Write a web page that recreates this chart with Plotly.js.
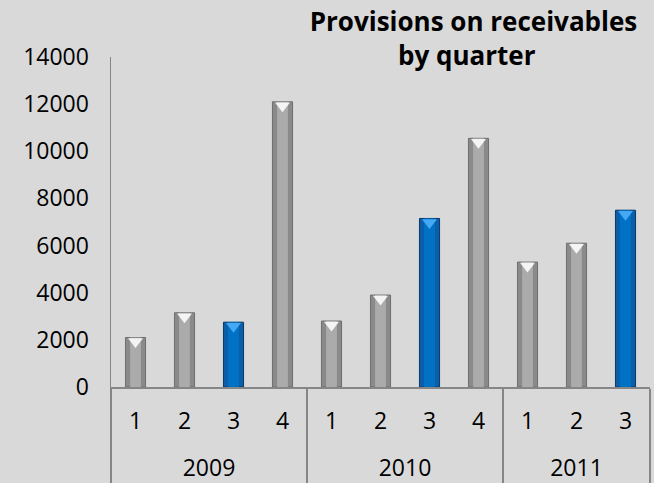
<!DOCTYPE html>
<html>
<head>
<meta charset="utf-8">
<script src="https://cdn.plot.ly/plotly-3.0.1.min.js"></script>
<style>html,body{margin:0;padding:0;background:#d9d9d9;}#chart{width:654px;height:483px;}</style>
</head>
<body>
<div id="chart"></div>
<script>
const years = ['2009','2009','2009','2009','2010','2010','2010','2010','2011','2011','2011'];
const quarters = ['1','2','3','4','1','2','3','4','1','2','3'];
const values = [2100, 3150, 2750, 12100, 2800, 3900, 7150, 10550, 5300, 6100, 7500];
const highlightQuarter = '3';
const yTicks = [0, 2000, 4000, 6000, 8000, 10000, 12000, 14000];

const isHi = quarters.map(q => q === highlightQuarter);
const outerColors = isHi.map(h => h ? '#0a5fa8' : '#8a8a8a');
const innerColors = isHi.map(h => h ? '#0072c6' : '#ababab');
const edgeColors = isHi.map(h => h ? '#06396a' : '#6e6e6e');
const capColors = isHi.map(h => h ? '#45a8f5' : '#f4f4f4');

// quarter labels get an extra (small) blank line so the year row sits lower
const quarterLabels = quarters.map(q => q + '<br><span style="font-size:10px">\u00a0</span>');
const xCats = [years, quarterLabels];

const font = 'Open Sans, Lato, sans-serif';

const traces = [
  {
    type: 'bar', x: xCats, y: values, width: 0.41,
    marker: {color: outerColors, line: {color: edgeColors, width: 1}},
    hoverinfo: 'skip', showlegend: false
  },
  {
    type: 'bar', x: xCats, y: values, width: 0.22,
    marker: {color: innerColors, line: {width: 0}},
    hoverinfo: 'skip', showlegend: false
  },
  {
    type: 'scatter', mode: 'markers', x: xCats, y: values,
    marker: {symbol: 'triangle-down', angle: 0, standoff: 4, size: 13,
             color: capColors, line: {width: 0}},
    cliponaxis: false, hoverinfo: 'skip', showlegend: false
  }
];

const layout = {
  width: 654, height: 483,
  paper_bgcolor: '#d9d9d9', plot_bgcolor: '#d9d9d9',
  margin: {l: 111, r: 4, t: 57, b: 96},
  barmode: 'overlay',
  font: {family: font, size: 23, color: '#000000'},
  title: {
    text: '<b>Provisions on receivables<br>by quarter\u00a0\u00a0</b>',
    font: {family: font, size: 26, color: '#000000'},
    xref: 'container', x: 0.724, xanchor: 'center',
    yref: 'container', y: 0.936, yanchor: 'top'
  },
  xaxis: {
    type: 'multicategory', range: [-0.5, 10.5], autorange: false,
    showline: true, linecolor: '#868686', linewidth: 1.5,
    showgrid: false, ticks: '', showdividers: true,
    dividercolor: '#868686', dividerwidth: 1.5,
    tickfont: {family: font, size: 23, color: '#000000'},
    ticklabelstandoff: 13
  },
  yaxis: {
    range: [0, 14000], tickvals: yTicks, ticktext: yTicks.map(String),
    showline: true, linecolor: '#868686', linewidth: 1.5,
    showgrid: false, zeroline: false, ticks: '',
    tickfont: {family: font, size: 23, color: '#000000'},
    ticklabelstandoff: 16
  }
};

Plotly.newPlot('chart', traces, layout, {displayModeBar: false, staticPlot: true});
</script>
</body>
</html>
